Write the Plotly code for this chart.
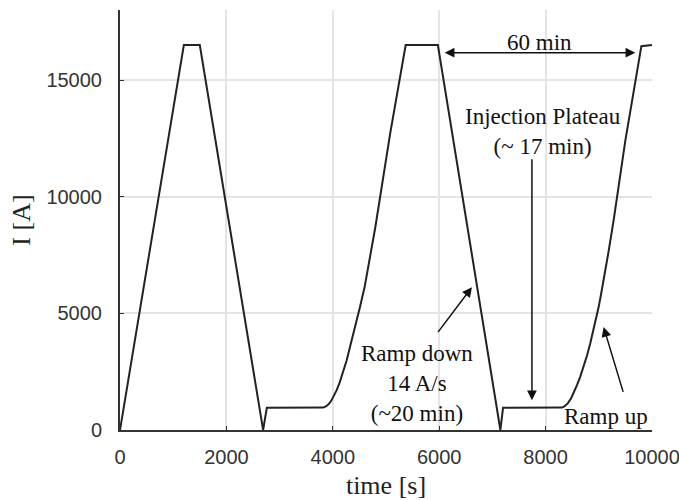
import plotly.graph_objects as go

# time [s] and current [A]
time_s = [0, 1200, 1500, 2690, 2760, 3700,
          3820, 3870, 3920, 3970, 4020, 4073, 4130, 4200, 4260, 4323, 4380, 4440, 4511,
          4600, 4700, 4800, 5078, 5370,
          5975, 7150, 7200, 8200,
          8306, 8360, 8420, 8480, 8530, 8590, 8650, 8720, 8780, 8840, 8900, 8950, 9000,
          9045, 9090, 9135, 9180, 9278, 9498, 9800, 10000]
current_a = [0, 16500, 16500, 0, 950, 950,
             960, 1010, 1100, 1250, 1460, 1710, 2040, 2500, 2980, 3560, 4050, 4600, 5270,
             6150, 7350, 8700, 12700, 16500,
             16500, 0, 950, 950,
             960, 1020, 1150, 1360, 1600, 1920, 2280, 2750, 3200, 3720, 4270, 4780, 5300,
             5850, 6410, 7000, 7600, 8970, 12390, 16450, 16500]

x_ticks = [0, 2000, 4000, 6000, 8000, 10000]
y_ticks = [0, 5000, 10000, 15000]

serif = "Liberation Serif"
sans = "Liberation Sans"

fig = go.Figure()
fig.add_trace(go.Scatter(x=time_s, y=current_a, mode="lines",
                         line=dict(color="#222222", width=2), showlegend=False))

ann_font = dict(family=serif, size=23, color="#111111")
arrow_col = "#111111"

# 60 min double arrow
fig.add_annotation(x=9686, y=16170, ax=6075, ay=16170, xref="x", yref="y", axref="x", ayref="y",
                   text="", showarrow=True, arrowhead=2, startarrowhead=2, arrowside="end+start",
                   arrowsize=1.3, startarrowsize=1.3, arrowwidth=1.5, arrowcolor=arrow_col)
fig.add_annotation(x=7880, y=16600, text="60 min", showarrow=False, font=ann_font)

# Injection plateau
fig.add_annotation(x=7955, y=12800, text="Injection Plateau<br>(~ 17 min)", showarrow=False, font=ann_font)
fig.add_annotation(x=7743, y=1280, ax=7743, ay=11670, xref="x", yref="y", axref="x", ayref="y",
                   text="", showarrow=True, arrowhead=2, arrowsize=1.3, arrowwidth=1.5, arrowcolor=arrow_col)

# Ramp down
fig.add_annotation(x=5580, y=2000, text="Ramp down<br>14 A/s<br>(~20 min)", showarrow=False, font=ann_font)
fig.add_annotation(x=6615, y=6120, ax=5956, ay=4130, xref="x", yref="y", axref="x", ayref="y",
                   text="", showarrow=True, arrowhead=2, arrowsize=1.3, arrowwidth=1.5, arrowcolor=arrow_col)

# Ramp up
fig.add_annotation(x=9130, y=570, text="Ramp up", showarrow=False, font=ann_font)
fig.add_annotation(x=9090, y=4415, ax=9466, ay=1570, xref="x", yref="y", axref="x", ayref="y",
                   text="", showarrow=True, arrowhead=2, arrowsize=1.3, arrowwidth=1.5, arrowcolor=arrow_col)

axis_common = dict(showline=True, linecolor="#333333", linewidth=2, ticks="inside", ticklen=4,
                   tickcolor="#333333", tickwidth=1, showgrid=True, gridcolor="#e4e4e4",
                   gridwidth=1.5, zeroline=False, ticklabeloverflow="allow", automargin=False,
                   tickfont=dict(family=sans, size=20, color="#333333"))

fig.update_xaxes(range=[0, 10000], tickvals=x_ticks, ticktext=[str(v) for v in x_ticks],
                 title=dict(text="time [s]", font=dict(family=serif, size=26, color="#222222"), standoff=12),
                 ticklabelstandoff=8, **axis_common)
fig.update_yaxes(range=[0, 18000], tickvals=y_ticks, ticktext=[str(v) for v in y_ticks],
                 title=dict(text="I [A]", font=dict(family=serif, size=26, color="#222222"), standoff=8),
                 ticklabelstandoff=12, **axis_common)

fig.update_layout(width=679, height=500, margin=dict(l=120, r=27, t=10, b=70),
                  plot_bgcolor="white", paper_bgcolor="white")

fig.write_html("out.html")
